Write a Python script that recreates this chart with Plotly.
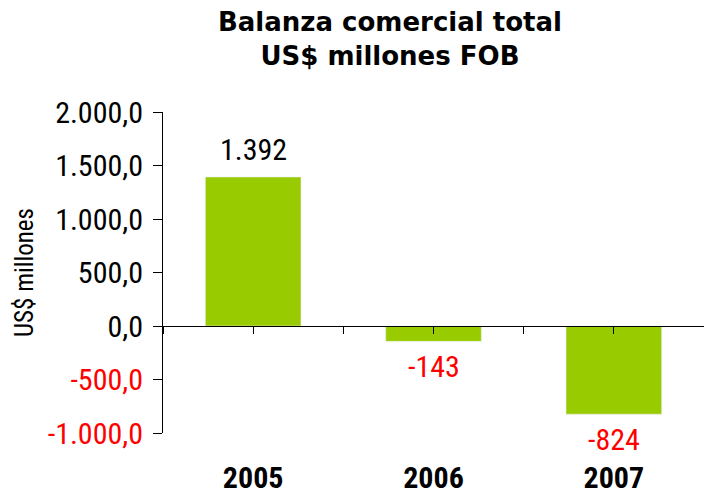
import plotly.graph_objects as go

years = ["2005", "2006", "2007"]
balance = [1392, -143, -824]
y_ticks = [-1000, -500, 0, 500, 1000, 1500, 2000]

BAR_COLOR = "#99CC00"
NEG_COLOR = "#FF0000"
NARROW = "Roboto Condensed, sans-serif"
TITLE_FONT = "DejaVu Sans, Liberation Sans, sans-serif"

W, H = 704, 494
ML, MR, MT, MB = 163, 0, 112, 61
PW, PH = W - ML - MR, H - MT - MB


def fmt_thousands(v, decimals=0):
    s = f"{abs(v):,.{decimals}f}"
    s = s.replace(",", "X").replace(".", ",").replace("X", ".")
    return ("-" if v < 0 else "") + s


def tick_text(v):
    t = fmt_thousands(v, 1)
    if v < 0:
        return f'<span style="color:{NEG_COLOR}">{t}</span>'
    return t


xpos = list(range(len(years)))

fig = go.Figure()
fig.add_trace(go.Bar(
    x=xpos, y=balance, marker_color=BAR_COLOR, width=0.53,
    hoverinfo="skip", showlegend=False,
))
# invisible trace on the zero-crossing axis
fig.add_trace(go.Scatter(x=xpos, y=[0] * len(xpos), mode="markers",
                         marker=dict(opacity=0), xaxis="x2", yaxis="y",
                         hoverinfo="skip", showlegend=False))

for i, v in enumerate(balance):
    fig.add_annotation(
        x=i, y=v, xref="x", yref="y",
        text=fmt_thousands(v),
        showarrow=False,
        yanchor="bottom" if v >= 0 else "top",
        yshift=8 if v >= 0 else -6,
        font=dict(family=NARROW, size=30, color="black" if v >= 0 else NEG_COLOR),
    )

# title (pixel position converted to paper coordinates)
fig.add_annotation(
    x=(390 - ML) / PW, y=(H - MB - 5) / PH, xref="paper", yref="paper",
    text="<b>Balanza comercial total<br>US$ millones FOB</b>",
    showarrow=False, xanchor="center", yanchor="top",
    font=dict(family=TITLE_FONT, size=26, color="black"),
)

fig.update_layout(
    width=W, height=H,
    margin=dict(l=ML, r=MR, t=MT, b=MB, autoexpand=False),
    plot_bgcolor="white", paper_bgcolor="white",
    bargap=0.47,
    xaxis=dict(
        range=[-0.5, 2.5], tickvals=xpos, ticktext=years,
        showline=False, ticks="", showgrid=False, zeroline=False,
        tickfont=dict(family=NARROW, size=30, color="black", weight="bold"),
        ticklabelstandoff=24, automargin=False,
    ),
    xaxis2=dict(
        range=[-0.5, 2.5], overlaying="x", anchor="free", position=1 / 3,
        side="bottom",
        tickvals=[-0.5, 0, 0.5, 1, 1.5, 2, 2.5],
        showticklabels=False, showline=True, linecolor="black", linewidth=1,
        ticks="outside", ticklen=7, tickcolor="black", showgrid=False, zeroline=False,
        automargin=False,
    ),
    yaxis=dict(
        range=[-1000, 2000], tickvals=y_ticks,
        ticktext=[tick_text(v) for v in y_ticks],
        showline=True, linecolor="black", linewidth=1,
        ticks="outside", ticklen=9, tickcolor="black",
        showgrid=False, zeroline=False,
        tickfont=dict(family=NARROW, size=30, color="black"),
        ticklabelstandoff=4, automargin=False,
        title=dict(text="US$ millones", standoff=6,
                   font=dict(family=NARROW, size=25, color="black")),
    ),
)

fig.write_html("out.html", config={"displayModeBar": False},
               post_script="document.body.style.margin='0';")
